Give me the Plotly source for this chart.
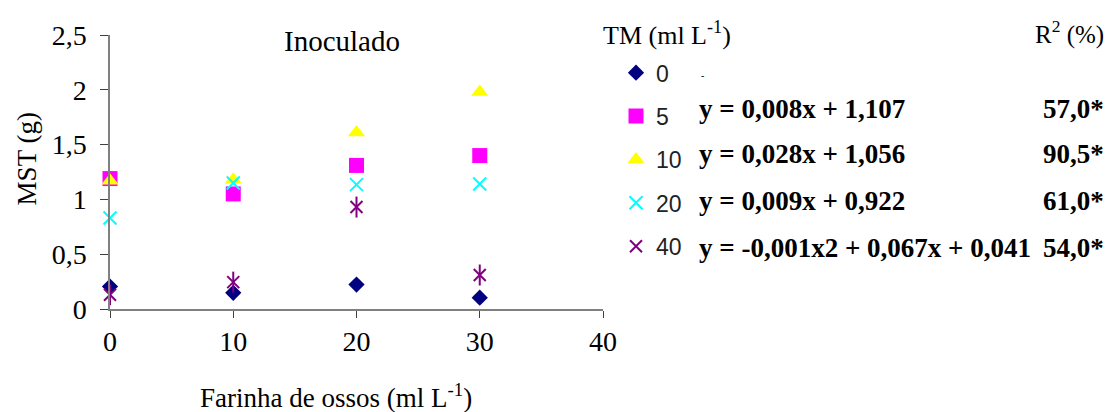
import plotly.graph_objects as go

# ---- data ----
farinha = [0, 10, 20, 30]
tm_labels = ["0", "5", "10", "20", "40"]
mst_tm0 = [0.205, 0.148, 0.223, 0.103]
mst_tm5 = [1.19, 1.05, 1.31, 1.40]
mst_tm10 = [1.17, 1.18, 1.61, 1.98]
mst_tm20 = [0.83, 1.15, 1.135, 1.14]
mst_tm40 = [0.13, 0.245, 0.93, 0.31]
equations = ["-", "y = 0,008x + 1,107", "y = 0,028x + 1,056",
             "y = 0,009x + 0,922", "y = -0,001x2 + 0,067x + 0,041"]
r2_values = ["", "57,0*", "90,5*", "61,0*", "54,0*"]
y_ticks = [0, 0.5, 1, 1.5, 2, 2.5]
y_ticktext = ["0", "0,5", "1", "1,5", "2", "2,5"]
x_ticks = [0, 10, 20, 30, 40]

OFF = 8  # page body margin
W, H = 1115 - OFF, 412 - OFF
# plot area in page pixels
L, R, T, B = 110, 603, 32.7, 308.7
PW, PH = R - L, B - T


def px(x):
    return (x - L) / PW


def py(y):
    return (B - y) / PH


SERIF = "Liberation Serif"
fig = go.Figure()

styles = [
    dict(symbol="diamond", size=12.5, color="#000080"),
    dict(symbol="square", size=15, color="#FF00FF"),
    dict(symbol="triangle-up", size=15, color="#FFFF00"),
]
series = [mst_tm0, mst_tm5, mst_tm10]
for lab, ys, st in zip(tm_labels[:3], series, styles):
    fig.add_trace(go.Scatter(
        x=farinha, y=ys, mode="markers", name=lab, legendgroup=lab,
        marker=dict(symbol=st["symbol"], size=st["size"], color=st["color"],
                    line=dict(width=0)),
        cliponaxis=False))

fig.add_trace(go.Scatter(
    x=farinha, y=mst_tm20, mode="markers", name=tm_labels[3], legendgroup=tm_labels[3],
    marker=dict(symbol="x-thin", size=13, line=dict(width=2, color="#00FFFF")),
    cliponaxis=False))
fig.add_trace(go.Scatter(
    x=farinha, y=mst_tm40, mode="markers", name=tm_labels[4], legendgroup=tm_labels[4],
    marker=dict(symbol="x-thin", size=12, line=dict(width=2, color="#800080")),
    cliponaxis=False))
fig.add_trace(go.Scatter(
    x=farinha, y=mst_tm40, mode="markers", name=tm_labels[4], legendgroup=tm_labels[4],
    showlegend=False,
    marker=dict(symbol="line-ns", size=15, line=dict(width=2, color="#800080")),
    cliponaxis=False))

axis_common = dict(showline=True, linecolor="#808080", linewidth=1.5,
                   ticks="outside", tickcolor="#404040", tickwidth=1.2,
                   showgrid=False, zeroline=False,
                   tickfont=dict(family=SERIF, size=28, color="#000"))

fig.update_xaxes(range=[0, 40], tickvals=x_ticks, ticklen=7,
                 ticklabelstandoff=0, **axis_common)
fig.update_yaxes(range=[0, 2.5], tickvals=y_ticks, ticktext=y_ticktext,
                 ticklen=8, ticklabelstandoff=8, **axis_common)

ann = []
ann.append(dict(text="Inoculado", x=px(342), y=py(39), xref="paper", yref="paper",
                showarrow=False, font=dict(family=SERIF, size=29, color="#000"),
                xanchor="center", yanchor="middle"))
ann.append(dict(text="MST (g)", x=px(27), y=py(158), xref="paper", yref="paper",
                showarrow=False, textangle=-90,
                font=dict(family=SERIF, size=27, color="#000"),
                xanchor="center", yanchor="middle"))
ann.append(dict(text="Farinha de ossos (ml L<sup>-1</sup>)", x=px(336), y=py(396),
                xref="paper", yref="paper", showarrow=False,
                font=dict(family=SERIF, size=27, color="#000"),
                xanchor="center", yanchor="middle"))
ann.append(dict(text="TM (ml L<sup>-1</sup>)", x=px(601), y=py(31), xref="paper",
                yref="paper", showarrow=False,
                font=dict(family=SERIF, size=26, color="#000"),
                xanchor="left", yanchor="middle"))
ann.append(dict(text="R<sup>2</sup> (%)", x=px(1033), y=py(30), xref="paper",
                yref="paper", showarrow=False,
                font=dict(family=SERIF, size=25, color="#000"),
                xanchor="left", yanchor="middle"))

row_y = [73, 107, 153, 200, 247]
for i, (eq, r2) in enumerate(zip(equations, r2_values)):
    if i == 0:
        ann.append(dict(text=eq, x=px(699), y=py(row_y[i]), xref="paper",
                        yref="paper", showarrow=False,
                        font=dict(family=SERIF, size=10, color="#000"),
                        xanchor="left", yanchor="middle"))
        continue
    ann.append(dict(text="<b>" + eq + "</b>", x=px(697), y=py(row_y[i]),
                    xref="paper", yref="paper", showarrow=False,
                    font=dict(family=SERIF, size=27, color="#000"),
                    xanchor="left", yanchor="middle"))
    ann.append(dict(text="<b>" + r2 + "</b>", x=px(1106), y=py(row_y[i]),
                    xref="paper", yref="paper", showarrow=False,
                    font=dict(family=SERIF, size=27, color="#000"),
                    xanchor="right", yanchor="middle"))

fig.update_layout(
    width=W, height=H,
    margin=dict(l=L - OFF, r=W - (R - OFF), t=T - OFF, b=H - (B - OFF)),
    plot_bgcolor="white", paper_bgcolor="white",
    showlegend=True,
    legend=dict(x=px(616), y=py(49), xanchor="left", yanchor="top",
                traceorder="grouped", tracegroupgap=10.5,
                itemwidth=30, bgcolor="rgba(0,0,0,0)",
                font=dict(family="Liberation Sans", size=23, color="#222")),
    annotations=ann,
)

fig.write_html("out.html")
